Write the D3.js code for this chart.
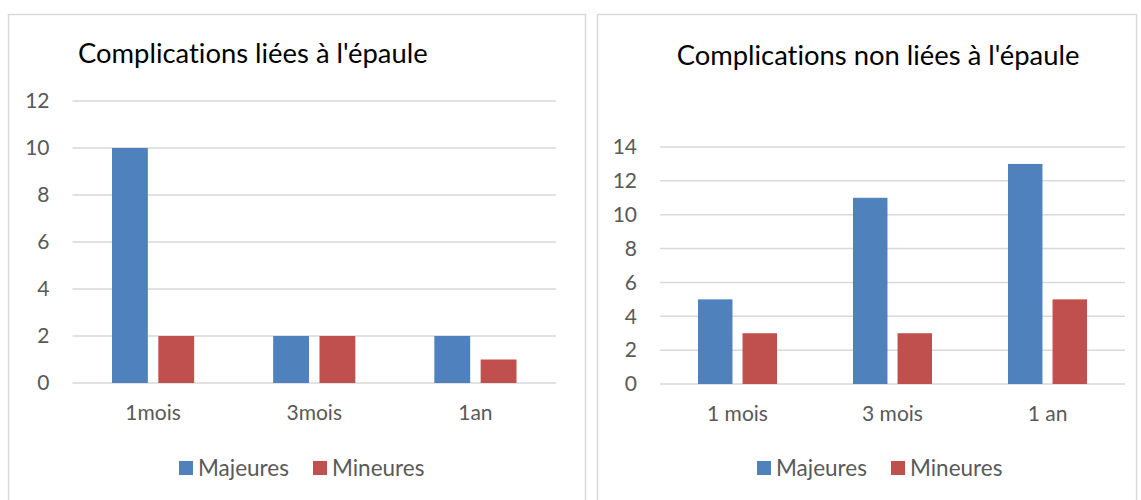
<!DOCTYPE html>
<html>
<head>
<meta charset="utf-8">
<title>Complications</title>
<script src="https://cdn.jsdelivr.net/npm/d3@7"></script>
<style>
  body { margin: 0; background: #fff; }
  text { font-family: Lato, "Open Sans", sans-serif; font-variant-ligatures: none; }
</style>
</head>
<body>
<svg width="1141" height="500" id="mainsvg"></svg>
<script>
// data
const series = ['Majeures', 'Mineures']
const seriesColors = ['#4f81bd', '#c0504d']

const categoriesA = ['1mois', '3mois', '1an']
const majeuresA = [10, 2, 2]
const mineuresA = [2, 2, 1]
const ticksA = [0, 2, 4, 6, 8, 10, 12]

const categoriesB = ['1 mois', '3 mois', '1 an']
const majeuresB = [5, 11, 13]
const mineuresB = [3, 3, 5]
const ticksB = [0, 2, 4, 6, 8, 10, 12, 14]

const svg = d3.select('#mainsvg')

// panel layout (pixels)
const panels = [
  {
    title: "Complications liées à l'épaule", titleX: 78, titleY: 63, titleAnchor: 'start',
    box: [8, 14, 585, 520],
    cats: categoriesA, values: [majeuresA, mineuresA], ticks: ticksA,
    x: [72.5, 556], y: [383, 101], legendX: 179
  },
  {
    title: "Complications non liées à l'épaule", titleX: 878, titleY: 65, titleAnchor: 'middle',
    box: [597, 14, 1136, 520],
    cats: categoriesB, values: [majeuresB, mineuresB], ticks: ticksB,
    x: [660, 1125], y: [384, 147], legendX: 757
  }
]

const drawPanel = function(p) {
  const g = svg.append('g')

  g.append('rect')
    .attr('x', p.box[0] + 0.5).attr('y', p.box[1] + 0.5)
    .attr('width', p.box[2] - p.box[0]).attr('height', p.box[3] - p.box[1])
    .attr('fill', '#fff').attr('stroke', '#d9d9d9').attr('stroke-width', 1.5)

  g.append('text')
    .attr('x', p.titleX).attr('y', p.titleY)
    .attr('text-anchor', p.titleAnchor)
    .attr('font-size', 27.4).attr('fill', '#000')
    .text(p.title)

  const yMax = p.ticks[p.ticks.length - 1]
  const y = d3.scaleLinear().domain([0, yMax]).range(p.y)

  const x0 = d3.scaleBand().domain(p.cats).range(p.x)
    .paddingInner(0.49).paddingOuter(0.245)
  const x1 = d3.scaleBand().domain(series).range([0, x0.bandwidth()])
    .paddingInner(0.226)

  // gridlines
  g.selectAll('line.grid')
    .data(p.ticks)
    .join('line')
    .attr('class', 'grid')
    .attr('x1', p.x[0]).attr('x2', p.x[1])
    .attr('y1', d => y(d)).attr('y2', d => y(d))
    .attr('stroke', '#d9d9d9').attr('stroke-width', 1.5)

  // y tick labels
  const yAxis = d3.axisLeft(y).tickValues(p.ticks).tickSize(0).tickPadding(23)
  const ya = g.append('g')
    .attr('transform', `translate(${p.x[0]},0)`)
    .call(yAxis)
  ya.select('.domain').remove()
  ya.selectAll('text')
    .attr('font-family', 'Lato, sans-serif')
    .attr('font-size', 21).attr('fill', '#595959')

  // bars
  const rows = p.cats.map((c, i) => ({ cat: c, vals: series.map((s, j) => ({ s, j, v: p.values[j][i] })) }))
  g.selectAll('g.cat')
    .data(rows)
    .join('g')
    .attr('class', 'cat')
    .attr('transform', d => `translate(${x0(d.cat)},0)`)
    .selectAll('rect')
    .data(d => d.vals)
    .join('rect')
    .attr('x', d => x1(d.s))
    .attr('width', x1.bandwidth())
    .attr('y', d => y(d.v))
    .attr('height', d => y(0) - y(d.v))
    .attr('fill', d => seriesColors[d.j])

  // category labels
  const xAxis = d3.axisBottom(x0).tickSize(0).tickPadding(22)
  const xa = g.append('g')
    .attr('transform', `translate(0,${p.y[0]})`)
    .call(xAxis)
  xa.select('.domain').remove()
  xa.selectAll('text')
    .attr('font-family', 'Lato, sans-serif')
    .attr('font-size', 21).attr('fill', '#595959')

  // legend
  const lg = g.append('g').attr('transform', `translate(${p.legendX},468)`)
  const item = lg.selectAll('g')
    .data(series)
    .join('g')
    .attr('transform', (d, i) => `translate(${i * 134},0)`)
  item.append('rect')
    .attr('x', 0).attr('y', -7).attr('width', 14).attr('height', 14)
    .attr('fill', (d, i) => seriesColors[i])
  item.append('text')
    .attr('x', 19).attr('y', 8)
    .attr('font-size', 22.5).attr('fill', '#595959')
    .text(d => d)
}

panels.forEach(drawPanel)
</script>
</body>
</html>
